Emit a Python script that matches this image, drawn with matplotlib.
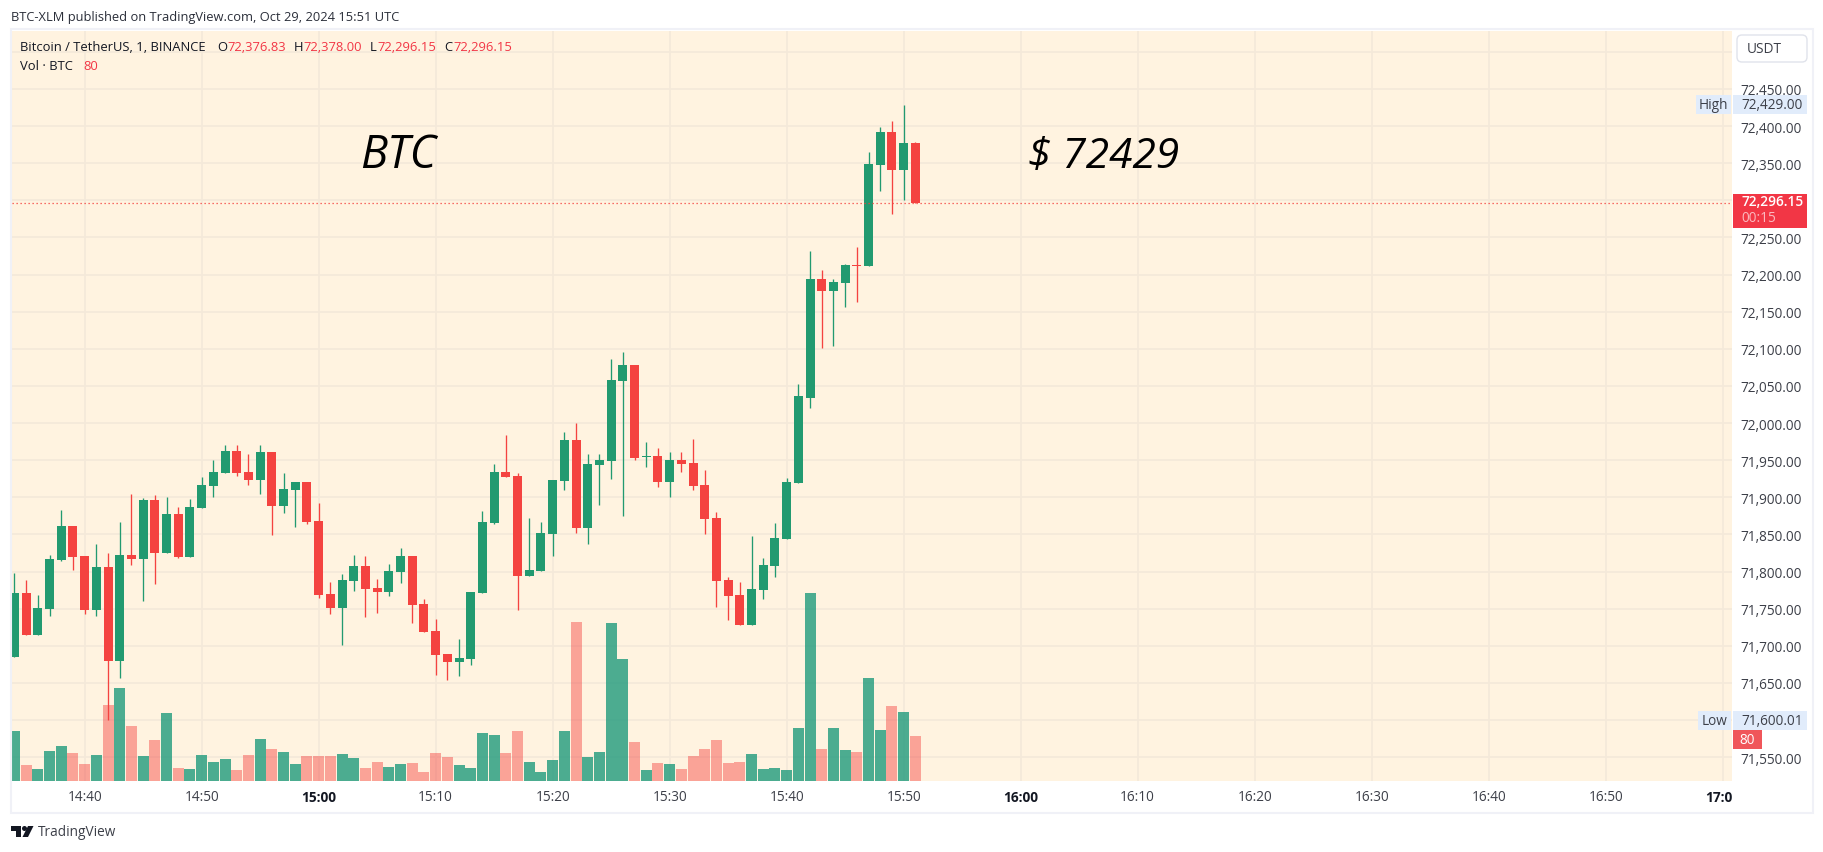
import numpy as np
import matplotlib
matplotlib.use("Agg")
import matplotlib.pyplot as plt
from matplotlib.patches import Rectangle, FancyBboxPatch, Polygon, Circle

# candles, first one is 14:34, one per minute
first_minute = -6  # minutes relative to 14:40
opens = [71685, 71771, 71714.5, 71749.5, 71815.5, 71861, 71821, 71748, 71806, 71679.5, 71822, 71817, 71896,
         71825, 71877.5, 71819.6, 71885.6, 71915, 71933, 71962, 71934, 71923, 71961, 71888, 71910, 71921,
         71868, 71770, 71751, 71787, 71807, 71778, 71772, 71799, 71821, 71756, 71720, 71689, 71678, 71682,
         71771, 71865, 71934, 71929, 71794, 71801, 71850.6, 71922, 71977, 71858.6, 71943.5, 71949, 72056.6,
         72078, 71954, 71955.6, 71920.6, 71950, 71946, 71916.5, 71872, 71788.6, 71768, 71728, 71775, 71807,
         71844, 71919, 72034, 72194, 72178, 72189, 72213, 72212, 72348, 72392, 72341, 72376.83]
highs = [71798, 71789, 71768, 71822, 71883, 71861, 71821, 71837, 71825, 71867, 71904, 71899, 71903,
         71900, 71887, 71898, 71927, 71950, 71970, 71970, 71958, 71970, 71961, 71933, 71921, 71921,
         71892, 71786, 71797, 71822, 71821, 71790, 71810, 71832, 71821, 71763, 71736, 71689, 71709, 71772,
         71881.5, 71945, 71984, 71933, 71872, 71867, 71923, 71988, 72000, 71958, 71958, 72086, 72096,
         72078, 71974.5, 71966, 71961, 71961, 71978.5, 71937, 71880, 71793, 71786, 71848, 71818, 71865,
         71926, 72052.6, 72232, 72206, 72194, 72214, 72237, 72365, 72399, 72407, 72429, 72378]
lows = [71685, 71714.5, 71714.5, 71740, 71814, 71802, 71743, 71740, 71600.01, 71657, 71809, 71760, 71783,
        71825, 71818, 71819.6, 71885.6, 71900, 71933, 71929, 71917, 71904, 71849, 71879, 71860, 71864,
        71764, 71743, 71701, 71774, 71739, 71744, 71767, 71785, 71731, 71718.5, 71661, 71654, 71659, 71674,
        71771, 71864, 71927, 71748, 71794, 71801, 71821, 71910, 71852, 71837, 71889.6, 71924.6, 71875,
        71950, 71941, 71914, 71900, 71934, 71910, 71850.5, 71752, 71735, 71728, 71728, 71763, 71793,
        71844, 71919, 72020, 72101, 72104, 72156, 72163, 72212, 72313, 72282, 72300.5, 72296.15]
closes = [71771, 71714.5, 71751, 71817, 71861, 71819.6, 71748, 71806, 71679.5, 71822, 71817, 71896, 71825,
          71877.5, 71819.6, 71887, 71916.6, 71934, 71962, 71933, 71923, 71961, 71888, 71911, 71921, 71867,
          71768, 71751, 71789, 71807, 71776, 71772, 71801, 71821, 71755, 71718.5, 71688, 71678, 71683.5, 71772,
          71867, 71934, 71927, 71794, 71802, 71852, 71923, 71977, 71858.6, 71944.8, 71950, 72058, 72078,
          71953, 71955.6, 71920.6, 71950, 71945, 71915, 71871, 71787, 71767, 71728, 71776, 71809, 71845,
          71920.6, 72036, 72194, 72178, 72190, 72213, 72212, 72349, 72392, 72341, 72377, 72296.15]
volumes = [89, 28, 21, 53, 62, 50, 30, 46, 135, 165, 98, 44, 73, 121, 23, 21, 46, 34, 39, 20, 46, 75, 57, 52, 30, 44,
           44, 44, 48, 41, 23, 34, 25, 30, 32, 16, 50, 43, 28, 23, 85, 82, 50, 89, 34, 16, 37, 89, 283, 43, 52, 281, 217,
           69, 20, 32, 30, 21, 44, 57, 73, 32, 34, 48, 21, 23, 20, 94, 334, 57, 94, 55, 52, 183, 91, 133, 123, 80]

price_ticks = np.arange(71550, 72501, 50)
hidden_prices = [71600, 72300, 72500]  # covered by the tags
time_minutes = np.arange(0, 141, 10)
time_labels = ["14:40", "14:50", "15:00", "15:10", "15:20", "15:30", "15:40", "15:50",
               "16:00", "16:10", "16:20", "16:30", "16:40", "16:50", "17:00"]
bold_labels = ["15:00", "16:00"]

last_price = 72296.15
high_price = 72429.00
low_price = 71600.01
last_volume = 80

GREEN = "#229a70"
VOL_GREEN = "#1f9a7c"
RED = "#f44340"
BG = "#fff3e0"
GRID = "#f4e9d9"
TEXT = "#131722"
AXIS_TEXT = "#3c3f48"
TAG_RED = "#f23645"
TAG_BLUE = "#e1ecfb"
FONT = "Open Sans"
AXIS_SIZE = 9.8

plt.rcParams["font.family"] = FONT
W, H = 1824, 853
fig = plt.figure(figsize=(W / 100, H / 100), dpi=100, facecolor="white")

L, R, T, B = 12, 1732, 32, 782
ax = fig.add_axes([L / W, 1 - B / H, (R - L) / W, (B - T) / H], facecolor=BG)
ax.set_xlim(-6.21, 140.8)
ax.set_ylim(71517.9, 72528)

x = np.arange(len(opens)) + first_minute
opens = np.array(opens)
closes = np.array(closes)
up = closes >= opens
colors = [GREEN if u else RED for u in up]

# volume on its own scale, 80 BTC is 45 px high
vol_ax = ax.twinx()
vol_ax.set_ylim(0, 1333)
vol_ax.axis("off")
vol_ax.bar(x, volumes, width=0.94, color=[VOL_GREEN if u else RED for u in up], linewidth=0)
for bar, u in zip(vol_ax.patches, up):
    bar.set_alpha(0.8 if u else 0.45)

# candles on top of the volume
price_ax = ax.twinx()
price_ax.set_ylim(ax.get_ylim())
price_ax.axis("off")
price_ax.vlines(x, lows, highs, color=colors, lw=0.95)
body = np.abs(closes - opens)
bottoms = np.minimum(opens, closes)
price_ax.bar(x, np.maximum(body, 1.2), bottom=bottoms, width=0.77, color=colors, linewidth=0)
price_ax.axhline(last_price, color=RED, lw=0.9, ls=(0, (1, 2.2)))

ax.set_axisbelow(True)
ax.yaxis.tick_right()
ax.set_yticks(price_ticks)
ax.set_yticklabels(["" if p in hidden_prices else f"{p:,.2f}" for p in price_ticks],
                   fontsize=AXIS_SIZE, color=AXIS_TEXT)
ax.set_xticks(time_minutes)
ax.set_xticklabels([])
ax.tick_params(length=0, axis="both")
ax.tick_params(axis="y", pad=6)
ax.grid(True, color=GRID, lw=1.2)
for a in (ax, vol_ax, price_ax):
    for s in a.spines.values():
        s.set_visible(False)

# overlay in pixels for tags, header and frame
ov = fig.add_axes([0, 0, 1, 1], zorder=10)
ov.set_xlim(0, W)
ov.set_ylim(H, 0)
ov.axis("off")
ov.patch.set_visible(False)


def price_y(p):
    return H - ax.transData.transform((0, p))[1]


def label(px, py, s, color=TEXT, size=9, ha="left", va="center", **kw):
    ov.text(px, py, s, color=color, fontsize=size, ha=ha, va=va, **kw)


def tag(x0, x1, yc, h, color):
    ov.add_patch(Rectangle((x0, yc - h / 2), x1 - x0, h, fc=color, ec="none"))


ov.add_patch(Rectangle((11, 30), 1802, 784, fc="none", ec="#f0f1f7", lw=1.5))

label(11, 17, "BTC-XLM published on TradingView.com, Oct 29, 2024 15:51 UTC", color="#2a2e39", size=9.3)
label(20, 47, "Bitcoin / TetherUS, 1, BINANCE", size=9.4)
for px, s in [(217, "O"), (294, "H"), (370, "L"), (444, "C")]:
    label(px, 47, s, size=9.4)
for px, v in [(227, opens[-1]), (303.5, highs[-1]), (377.5, lows[-1]), (453.5, closes[-1])]:
    label(px, 47, f"{v:,.2f}", color=TAG_RED, size=9.4)
label(20, 66, "Vol · BTC", size=9.4)
label(83, 66, f"{last_volume}", color=TAG_RED, size=9.4)

label(360, 168, "BTC", color="black", size=32.5, style="italic", va="baseline")
label(1028, 168, "$ 72429", color="black", size=30.5, style="italic", va="baseline")

# x axis labels
for m, s in zip(time_minutes, time_labels):
    px = ax.transData.transform((m, 0))[0]
    if s == "17:00":
        label(1732, 798, "17:0", ha="right", size=AXIS_SIZE, weight="bold", color=TEXT)
    elif s in bold_labels:
        label(px, 798, s, ha="center", size=AXIS_SIZE, weight="bold", color=TEXT)
    else:
        label(px, 798, s, ha="center", size=AXIS_SIZE, color=AXIS_TEXT)

# price tags
ov.add_patch(FancyBboxPatch((1737, 36), 70, 27, boxstyle="round,pad=0,rounding_size=5",
                            fc="white", ec="#e0e3eb", lw=1))
label(1747, 49.5, "USDT", size=AXIS_SIZE, color=AXIS_TEXT)

yh = price_y(high_price)
tag(1696, 1731, yh, 19, TAG_BLUE)
tag(1733, 1807, yh, 19, TAG_BLUE)
label(1713.5, yh, "High", ha="center", size=AXIS_SIZE, color=AXIS_TEXT)
label(1741.5, yh, f"{high_price:,.2f}", size=AXIS_SIZE, color=AXIS_TEXT)

yl = price_y(low_price)
tag(1698, 1731, yl, 19, TAG_BLUE)
tag(1733, 1807, yl, 19, TAG_BLUE)
label(1715, yl, "Low", ha="center", size=AXIS_SIZE, color=AXIS_TEXT)
label(1741.5, yl, f"{low_price:,.2f}", size=AXIS_SIZE, color=AXIS_TEXT)

yp = price_y(last_price)
tag(1733, 1807, yp + 8, 34, TAG_RED)
label(1741.5, yp - 2, f"{last_price:,.2f}", size=AXIS_SIZE, color="white", weight=600)
label(1741.5, yp + 14, "00:15", size=AXIS_SIZE, color="#fbb9bf")

tag(1733, 1762, 740.5, 19, "#f0565a")
label(1747, 740.5, f"{last_volume}", size=AXIS_SIZE, color="white", ha="center")

# logo
ov.add_patch(Polygon([(11, 827), (21, 827), (21, 838), (16, 838), (16, 832), (11, 832)], fc="#131722", ec="none"))
ov.add_patch(Circle((24.5, 829.5), 2.5, fc="#131722", ec="none"))
ov.add_patch(Polygon([(28, 827), (33.5, 827), (28, 838), (22.5, 838)], fc="#131722", ec="none"))
label(38, 833, "TradingView", size=9.8, color="#3c3f48")

fig.savefig("out.png", dpi=100)
